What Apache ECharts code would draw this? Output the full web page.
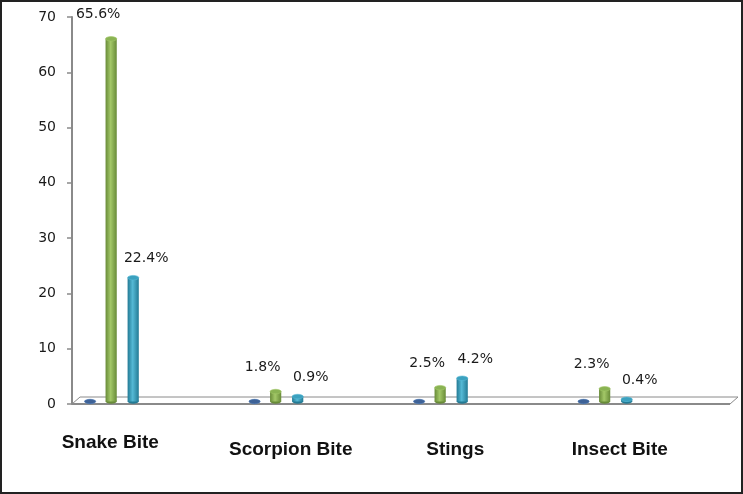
<!DOCTYPE html>
<html>
<head>
<meta charset="utf-8">
<script src="https://cdn.jsdelivr.net/npm/echarts@6/dist/echarts.min.js"></script>
<style>
html,body{margin:0;padding:0;background:#fff;}
#chart{width:743px;height:494px;}
</style>
</head>
<body>
<div id="chart"></div>
<script>
// ---- data ----
const categories = ['Snake Bite', 'Scorpion Bite', 'Stings', 'Insect Bite'];
const series1Values = [0, 0, 0, 0];
const series2Values = [65.6, 1.8, 2.5, 2.3];
const series3Values = [22.4, 0.9, 4.2, 0.4];
const yTicks = { min: 0, max: 70, interval: 10 };

// ---- styles ----
const SLOT = [-0.39, -0.262, -0.128];   // cluster offsets as fraction of band width
const STYLES = [
  { dark: '#2f5386', light: '#5a86c0', top: '#3e6297', label: false },
  { dark: '#688b38', light: '#a3c868', top: '#8ab353', label: true, dx: -13, dy: -24 },
  { dark: '#237a94', light: '#55b9d5', top: '#3ba1bf', label: true, dx: 13, dy: -19 }
];

function makeRender(slot) {
  const st = STYLES[slot];
  return function (params, api) {
    const cat = api.value(0), val = api.value(1);
    const base = api.coord([cat, 0]);
    const top = api.coord([cat, val]);
    const band = api.size([1, 0])[0];
    const cx = base[0] + band * SLOT[slot];
    const w = band * 0.068;
    const depth = 2.5;
    const yb = base[1] - depth, yt = top[1] - depth;
    const ry = w * 0.2;
    const grad = new echarts.graphic.LinearGradient(0, 0, 1, 0, [
      { offset: 0, color: st.dark },
      { offset: 0.45, color: st.light },
      { offset: 1, color: st.dark }
    ]);
    const children = [
      { type: 'ellipse', shape: { cx: cx, cy: yb, rx: w / 2, ry: ry }, style: { fill: st.dark } },
      { type: 'rect', shape: { x: cx - w / 2, y: yt, width: w, height: Math.max(0, yb - yt) }, style: { fill: grad } },
      { type: 'ellipse', shape: { cx: cx, cy: yt, rx: w / 2, ry: ry }, style: { fill: st.top, stroke: st.light, lineWidth: 0.6 } }
    ];
    if (st.label) {
      children.push({
        type: 'text',
        style: {
          text: val.toFixed(1) + '%',
          x: cx + st.dx, y: yt + st.dy,
          align: 'center', verticalAlign: 'middle',
          fontFamily: 'DejaVu Sans', fontSize: 14, fill: '#1a1a1a'
        }
      });
    }
    return { type: 'group', children: children };
  };
}

function toData(arr) { return arr.map((v, i) => [i, v]); }

const chart = echarts.init(document.getElementById('chart'), null, { renderer: 'canvas' });
const option = {
  animation: false,
  backgroundColor: '#fff',
  grid: { left: 72, right: 13, top: 17, bottom: 90, containLabel: false },
  xAxis: {
    type: 'category',
    data: categories,
    axisLine: { show: false },
    axisTick: { show: false },
    axisLabel: {
      interval: 0,
      margin: 29,
      formatter: function (v, i) { return i === 0 ? '{a|' + v + '}' : '{b|' + v + '}'; },
      rich: {
        a: { fontFamily: 'Liberation Sans', fontWeight: 'bold', fontSize: 19, color: '#111', padding: [0, 88, 0, 0] },
        b: { fontFamily: 'Liberation Sans', fontWeight: 'bold', fontSize: 19, color: '#111', padding: [7, 56, 0, 0] }
      }
    }
  },
  yAxis: {
    type: 'value',
    min: yTicks.min, max: yTicks.max, interval: yTicks.interval,
    axisLine: { show: true, lineStyle: { color: '#8a8a8a', width: 2 } },
    axisTick: { show: true, inside: false, length: 5, lineStyle: { color: '#8a8a8a', width: 1.5 } },
    splitLine: { show: false },
    axisLabel: { fontFamily: 'DejaVu Sans', fontSize: 14, color: '#1a1a1a', margin: 16 }
  },
  series: [
    { name: 'Series1', type: 'custom', renderItem: makeRender(0), data: toData(series1Values), z: 5 },
    { name: 'Series2', type: 'custom', renderItem: makeRender(1), data: toData(series2Values), z: 5 },
    { name: 'Series3', type: 'custom', renderItem: makeRender(2), data: toData(series3Values), z: 5 }
  ]
};
chart.setOption(option);

// floor (3D base) computed from the axes
const c0 = chart.convertToPixel({ xAxisIndex: 0 }, categories[0]);
const c1 = chart.convertToPixel({ xAxisIndex: 0 }, categories[1]);
const cN = chart.convertToPixel({ xAxisIndex: 0 }, categories[categories.length - 1]);
const bandW = c1 - c0;
const fx0 = c0 - bandW / 2, fx1 = cN + bandW / 2;
const fy = chart.convertToPixel({ yAxisIndex: 0 }, 0);
const dX = 8, dY = 7;
chart.setOption({
  graphic: [
    { type: 'polygon', z: 1, shape: { points: [[fx0, fy], [fx1, fy], [fx1 + dX, fy - dY], [fx0 + dX, fy - dY]] },
      style: { fill: '#fff', stroke: '#8a8a8a', lineWidth: 1 } },
    { type: 'line', z: 1, shape: { x1: fx0, y1: fy, x2: fx1, y2: fy }, style: { stroke: '#8a8a8a', lineWidth: 2 } },
    { type: 'rect', z: 10, shape: { x: 1, y: 1, width: 741, height: 492 }, style: { fill: 'none', stroke: '#222', lineWidth: 2 } }
  ]
});
</script>
</body>
</html>
